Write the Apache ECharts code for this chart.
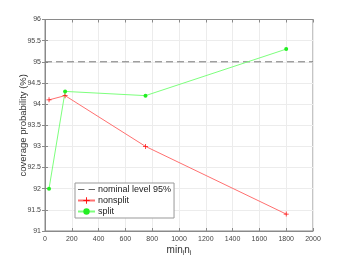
<!DOCTYPE html>
<html><head><meta charset="utf-8">
<script src="https://cdn.jsdelivr.net/npm/echarts@6/dist/echarts.min.js"></script>
<style>html,body{margin:0;padding:0;background:#fff}#c{width:346px;height:260px}</style>
</head><body><div id="c"></div>
<script>
const xNonsplit = [30, 150, 750, 1800];
const yNonsplit = [94.1, 94.2, 93.0, 91.4];
const xSplit = [30, 150, 750, 1800];
const ySplit = [92.0, 94.3, 94.2, 95.3];
const nominalX = [0, 2000];
const nominalY = [95, 95];
const seriesNames = ['nominal level 95%', 'nonsplit', 'split'];

const pair = (xs, ys) => xs.map((x, i) => [x, ys[i]]);
const font = 'Liberation Sans, Arial, sans-serif';
const axisCol = '#8a8a8a';
const chart = echarts.init(document.getElementById('c'), null, {renderer: 'canvas'});
const tickFmt = v => String(Math.round(v * 10) / 10);
const dashIcon = 'path://M0,4L6,4L6,5L0,5Z M10,4L16,4L16,5L10,5Z';
chart.setOption({
  animation: false,
  backgroundColor: '#fff',
  grid: {left: 45, right: 33, top: 19.5, bottom: 29, show: true, borderColor: axisCol, borderWidth: 1,
         containLabel: false, outerBoundsMode: 'none'},
  legend: {
    data: [{name: seriesNames[0], icon: dashIcon, itemStyle: {color: '#666'}}, seriesNames[1], seriesNames[2]],
    orient: 'vertical', left: 75, top: 183,
    backgroundColor: '#fff', borderColor: '#999', borderWidth: 1,
    padding: [2, 3, 2, 2], itemGap: 2, itemWidth: 17, itemHeight: 8,
    textStyle: {fontFamily: font, fontSize: 9, color: '#222', padding: [0, 0, 0, -2]}
  },
  xAxis: [{
    type: 'value', min: 0, max: 2000, interval: 200,
    name: 'min{s|i}n{s|i}', nameLocation: 'middle', nameGap: 13, nameMoveOverlap: false,
    nameTextStyle: {fontFamily: font, fontSize: 10, color: '#333', rich: {s: {fontSize: 7, verticalAlign: 'bottom', padding: [6, 0, 0, 0], color: '#333', fontFamily: font}}},
    axisLine: {show: true, lineStyle: {color: axisCol}},
    axisTick: {show: true, inside: true, length: 3, lineStyle: {color: axisCol}},
    axisLabel: {fontFamily: font, fontSize: 7, color: '#444', margin: 5, formatter: v => String(v)},
    splitLine: {show: true, lineStyle: {color: '#ececec'}}
  }, {
    type: 'value', position: 'top', min: 0, max: 2000, interval: 200,
    axisLine: {show: true, lineStyle: {color: axisCol}},
    axisTick: {show: true, inside: true, length: 3, lineStyle: {color: axisCol}},
    axisLabel: {show: false}, splitLine: {show: false}
  }],
  yAxis: [{
    type: 'value', min: 91, max: 96, interval: 0.5,
    name: 'coverage probability (%)', nameLocation: 'middle', nameGap: 17, nameMoveOverlap: false,
    nameTextStyle: {fontFamily: font, fontSize: 9.5, color: '#333'},
    axisLine: {show: true, lineStyle: {color: axisCol}},
    axisTick: {show: true, inside: true, length: 3, lineStyle: {color: axisCol}},
    axisLabel: {fontFamily: font, fontSize: 7, color: '#444', margin: 4, formatter: tickFmt},
    splitLine: {show: true, lineStyle: {color: '#ececec'}}
  }, {
    type: 'value', position: 'right', min: 91, max: 96, interval: 0.5,
    axisLine: {show: true, lineStyle: {color: axisCol}},
    axisTick: {show: true, inside: true, length: 3, lineStyle: {color: axisCol}},
    axisLabel: {show: false}, splitLine: {show: false}
  }],
  series: [{
    name: seriesNames[0], type: 'line', data: pair(nominalX, nominalY),
    symbol: 'none', lineStyle: {color: '#777', width: 1, type: [7, 4]}, itemStyle: {color: '#777'}
  }, {
    name: seriesNames[1], type: 'line', data: pair(xNonsplit, yNonsplit),
    symbol: 'path://M-1,-0.15L1,-0.15L1,0.15L-1,0.15Z M-0.15,-1L0.15,-1L0.15,1L-0.15,1Z', symbolSize: 5,
    lineStyle: {color: '#ff7070', width: 1}, itemStyle: {color: '#ff1010'}
  }, {
    name: seriesNames[2], type: 'line', data: pair(xSplit, ySplit),
    symbol: 'circle', symbolSize: 4,
    lineStyle: {color: '#7dff7d', width: 1}, itemStyle: {color: '#22ee22'}
  }]
});
</script></body></html>
